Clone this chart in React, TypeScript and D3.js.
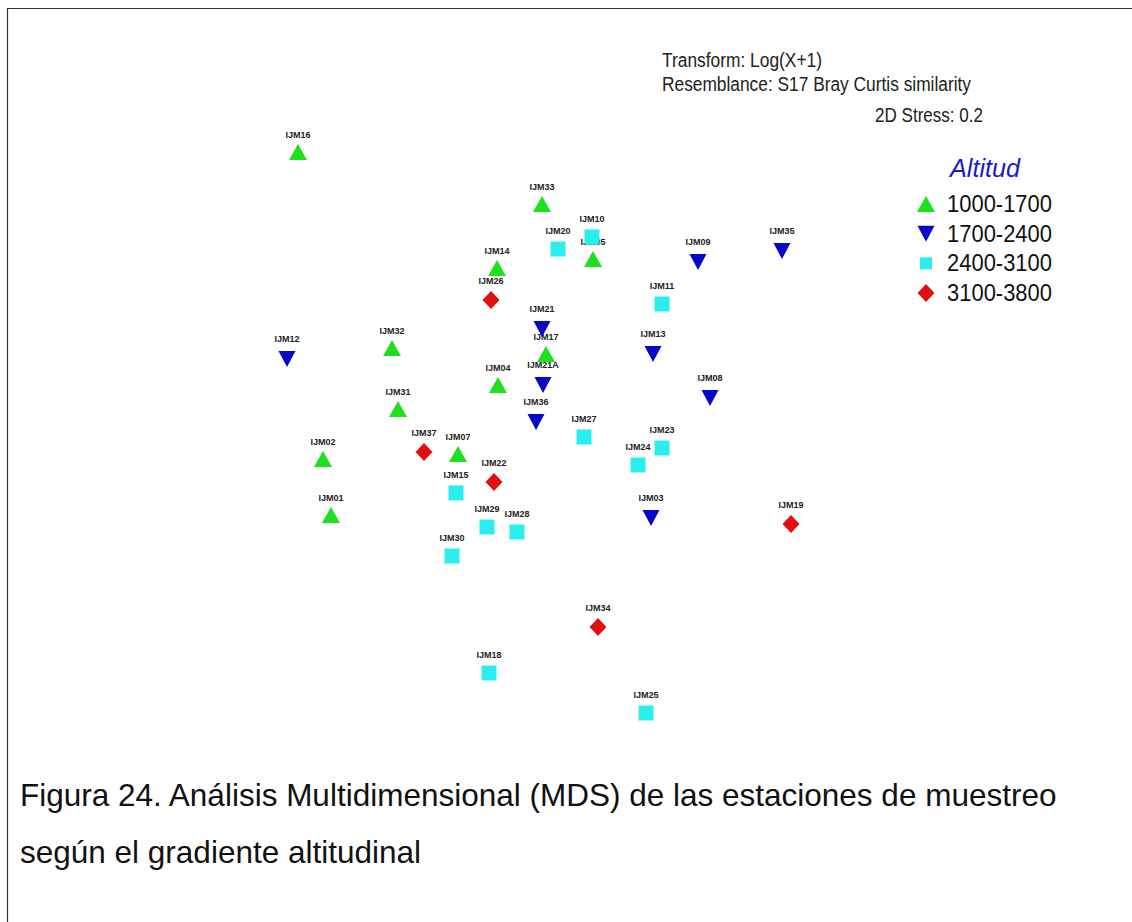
import React from "react";
import * as d3 from "d3";

// MDS station coordinates (arbitrary MDS units)
const stations = ["IJM16","IJM33","IJM10","IJM20","IJM05","IJM14","IJM26","IJM09","IJM35","IJM11","IJM21","IJM17","IJM13","IJM12","IJM32","IJM04","IJM21A","IJM08","IJM31","IJM36","IJM27","IJM23","IJM24","IJM37","IJM07","IJM02","IJM22","IJM15","IJM29","IJM28","IJM30","IJM01","IJM03","IJM19","IJM34","IJM18","IJM25"];
const mdsX = [-2.42,0.02,0.52,0.18,0.53,-0.43,-0.49,1.58,2.42,1.22,0.02,0.06,1.13,-2.53,-1.48,-0.42,0.03,1.70,-1.42,-0.04,0.44,1.22,0.98,-1.16,-0.82,-2.17,-0.46,-0.84,-0.53,-0.23,-0.88,-2.09,1.11,2.51,0.58,-0.51,1.06];
const mdsY = [2.68,2.16,1.83,1.71,1.61,1.52,1.20,1.58,1.69,1.16,0.91,0.66,0.66,0.61,0.72,0.35,0.35,0.22,0.11,-0.02,-0.17,-0.28,-0.45,-0.32,-0.34,-0.39,-0.62,-0.73,-1.07,-1.12,-1.36,-0.95,-0.98,-1.04,-2.07,-2.53,-2.93];
// altitude group index: 0=1000-1700, 1=1700-2400, 2=2400-3100, 3=3100-3800
const groupIdx = [0,0,2,2,0,0,3,1,1,2,1,0,1,1,0,0,1,1,0,1,2,2,2,3,0,0,3,2,2,2,2,0,1,3,3,2,2];

const groupLabels = ["1000-1700","1700-2400","2400-3100","3100-3800"];
const groupColors = ["#1fe01f","#0707c8","#2aeeee","#e01010"];
const headerLines = ["Transform: Log(X+1)","Resemblance: S17 Bray Curtis similarity"];
const stressText = "2D Stress: 0.2";
const legendTitle = "Altitud";
const captionLines = ["Figura 24. Análisis Multidimensional (MDS) de las estaciones de muestreo","según el gradiente altitudinal"];

function shapePath(g: number, s: number) {
  // bbox-centred shapes, s = scale factor
  if (g === 0) { const w = 9 * s, h = 8 * s; return `M0,${-h}L${w},${h}L${-w},${h}Z`; }
  if (g === 1) { const w = 8.5 * s, h = 8 * s; return `M0,${h}L${w},${-h}L${-w},${-h}Z`; }
  if (g === 2) { const a = 7.5 * s; return `M${-a},${-a}H${a}V${a}H${-a}Z`; }
  const w = 8.5 * s, h = 9 * s; return `M0,${-h}L${w},0L0,${h}L${-w},0Z`;
}
const labelOffset = [14.2, 16.7, 15.4, 15.9];

export default function App() {
  const x = d3.scaleLinear().domain([-3, 3]).range([240, 840]);
  const y = d3.scaleLinear().domain([-3, 3]).range([720, 120]);
  const idx = d3.range(stations.length);
  const legendY = d3.scaleLinear().domain([0, 3]).range([204, 293]);

  return (
    <svg width={1132} height={922} style={{ position: "absolute", left: 0, top: 0, background: "#fff" }}
      fontFamily="'Liberation Sans', Arial, sans-serif">
      <rect x={0} y={0} width={1132} height={922} fill="#fff" />
      <path d="M7.5,922V8.5H1132" fill="none" stroke="#333" strokeWidth={1.2} />

      {/* header texts */}
      <text x={662} y={67} fontSize={20} fill="#222" textLength={160} lengthAdjust="spacingAndGlyphs">{headerLines[0]}</text>
      <text x={662} y={90.5} fontSize={20} fill="#222" textLength={309} lengthAdjust="spacingAndGlyphs">{headerLines[1]}</text>
      <text x={875} y={122} fontSize={20} fill="#222" textLength={108} lengthAdjust="spacingAndGlyphs">{stressText}</text>

      {/* station labels */}
      <g fontWeight="bold" fontSize={9} fill="#222" textAnchor="middle">
        {idx.map(i => (
          <text key={"l" + i} x={x(mdsX[i])} y={y(mdsY[i]) - labelOffset[groupIdx[i]]}>{stations[i]}</text>
        ))}
      </g>
      {/* markers */}
      <g>
        {idx.map(i => (
          <path key={"m" + i} d={shapePath(groupIdx[i], 1)} fill={groupColors[groupIdx[i]]}
            transform={`translate(${x(mdsX[i])},${y(mdsY[i])})`} />
        ))}
      </g>

      {/* legend */}
      <text x={950} y={177} fontSize={25} fontStyle="italic" fill="#1a1acc" textLength={70} lengthAdjust="spacingAndGlyphs">{legendTitle}</text>
      {groupLabels.map((lab, g) => (
        <g key={"lg" + g} transform={`translate(0,${legendY(g)})`}>
          <path d={shapePath(g, g === 2 ? 0.8 : 1)} fill={groupColors[g]} transform={`translate(926,0)`} />
          <text x={947} y={8} fontSize={23} fill="#111" textLength={105} lengthAdjust="spacingAndGlyphs">{lab}</text>
        </g>
      ))}

      {/* caption */}
      <text x={20} y={806} fontSize={31.5} fill="#111">{captionLines[0]}</text>
      <text x={20} y={863} fontSize={31.5} fill="#111">{captionLines[1]}</text>
    </svg>
  );
}
